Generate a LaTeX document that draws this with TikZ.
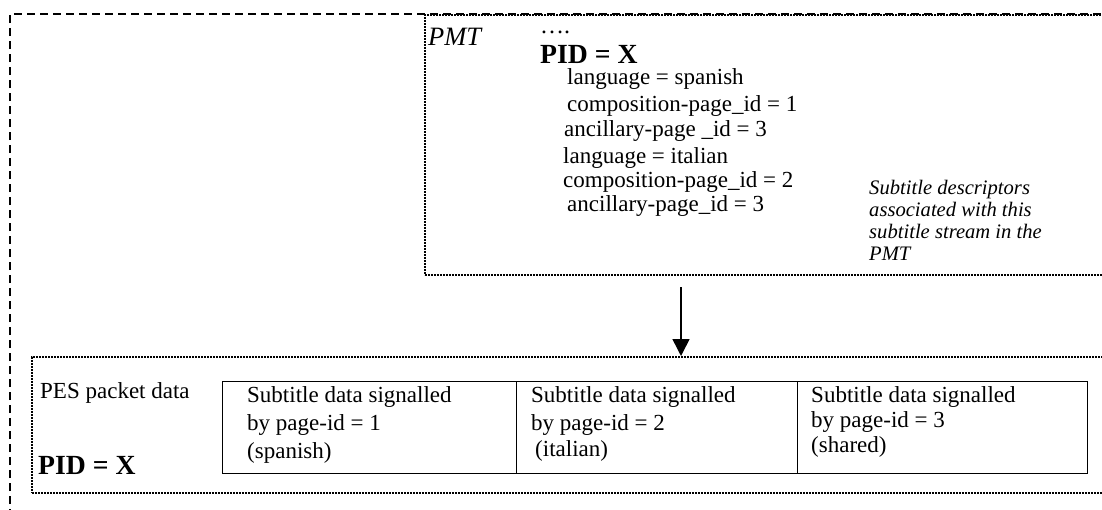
\documentclass[tikz,border=0pt]{standalone}
\usepackage{fontspec}
\setmainfont{Liberation Serif}
\usetikzlibrary{arrows.meta}
\tikzset{
  txt/.style={anchor=base west, inner sep=0pt, font=\fontsize{23}{26}\selectfont},
  bigb/.style={anchor=base west, inner sep=0pt, font=\fontsize{27.7}{30}\selectfont\bfseries},
  bigi/.style={anchor=base west, inner sep=0pt, font=\fontsize{26.5}{32}\selectfont\itshape},
  note/.style={anchor=base west, inner sep=0pt, font=\fontsize{20.6}{22}\selectfont\itshape},
  outerdash/.style={draw, line width=1.4pt, dash pattern=on 8pt off 5pt},
  dotbox/.style={draw, line width=1.5pt, dash pattern=on 2pt off 1pt, rectangle, inner sep=0pt, anchor=north west},
  cell/.style={draw, line width=1.3pt, rectangle, inner sep=0pt, anchor=north west},
  arr/.style={line width=1.5pt, -{Triangle[width=17pt,length=17pt]}, shorten >=0pt}
}
\begin{document}
\begin{tikzpicture}[x=1pt,y=-1pt]
\useasboundingbox (0,0) rectangle (1102,509);
% outer dashed frame
\coordinate (obl) at (10,530);
\coordinate (otr) at (1120,14);
\draw[outerdash] (obl) |- (otr);
% PMT box
\node[dotbox, minimum width=700pt, minimum height=260pt] (pmt) at (424,14) {};
% PES box
\node[dotbox, minimum width=1090pt, minimum height=136pt] (pes) at (31,356) {};
% arrow
\coordinate (a1) at (681,287);
\draw[arr] (a1) -- (a1 |- pes.north);
% PMT texts
\node[bigi] (pmtl) at (428,45) {PMT};
\node[txt, font=\fontsize{24}{26}\selectfont] (dots) at (540,33) {….};
\node[bigb, text depth=0pt] (pid1) at (540,63) {PID = X};
\node[txt] (l1) at (567,84) {language = spanish};
\node[txt] (l2) at (567,111) {composition-page\_id = 1};
\node[txt] (l3) at (564,136) {ancillary-page \_id = 3};
\node[txt] (l4) at (563,163) {language = italian};
\node[txt] (l5) at (563,187) {composition-page\_id = 2};
\node[txt] (l6) at (567,211) {ancillary-page\_id = 3};
% note
\node[note] (n1) at (869,194) {Subtitle descriptors};
\node[note] (n2) at (869,216) {associated with this};
\node[note] (n3) at (869,238) {subtitle stream in the};
\node[note] (n4) at (869,260) {PMT};
% PES texts
\node[txt] (pesl) at (40,398) {PES packet data};
\node[bigb] (pid2) at (38,474) {PID = X};
% table
\node[cell, minimum width=294pt, minimum height=92pt] (c1) at (222,381) {};
\node[cell, minimum width=281pt, minimum height=92pt] (c2) at (516,381) {};
\node[cell, minimum width=290pt, minimum height=92pt] (c3) at (797,381) {};
\node[txt] (t11) at (247,402) {Subtitle data signalled};
\node[txt] (t12) at (247,430) {by page-id = 1};
\node[txt] (t13) at (247,458) {(spanish)};
\node[txt] (t21) at (531,402) {Subtitle data signalled};
\node[txt] (t22) at (531,430) {by page-id = 2};
\node[txt] (t23) at (535,456) {(italian)};
\node[txt] (t31) at (811,402) {Subtitle data signalled};
\node[txt] (t32) at (811,427) {by page-id = 3};
\node[txt] (t33) at (811,452) {(shared)};
\end{tikzpicture}
\end{document}
